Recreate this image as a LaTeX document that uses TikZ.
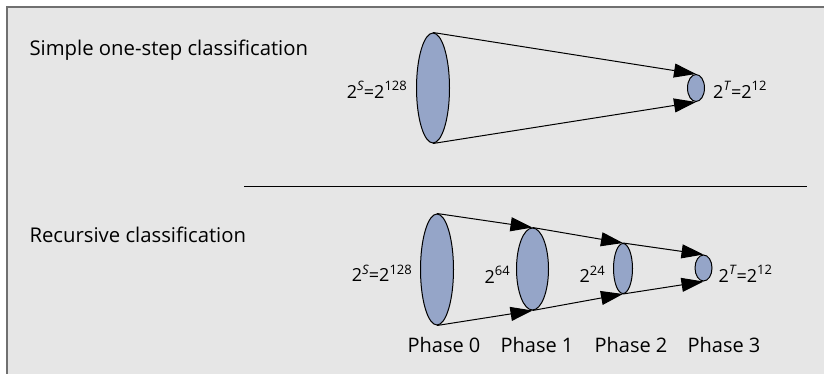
\documentclass[tikz,border=0pt]{standalone}
\usepackage{fontspec}
\setmainfont{Open Sans}
\usetikzlibrary{positioning, arrows.meta, shapes.geometric}
\definecolor{panelgray}{RGB}{230,230,230}
\definecolor{framegray}{RGB}{112,112,112}
\definecolor{setblue}{RGB}{149,165,200}
\newcommand{\pow}[1]{2\raisebox{0.42em}{\fontsize{13}{15}\selectfont#1}}

\begin{document}
\begin{tikzpicture}[x=1pt, y=-1pt,
        set/.style={ellipse, draw, line width=1pt, fill=setblue, inner sep=0pt},
        heading/.style={font=\fontsize{20.3}{24}\selectfont, anchor=west},
        size/.style={font=\fontsize{18}{22}\selectfont, inner sep=1pt},
        phase/.style={font=\fontsize{20}{24}\selectfont},
        flow/.style={line width=1pt, -{Triangle[length=22pt, width=14pt]}}]
        \useasboundingbox (0,0) rectangle (824,374);
        \fill[panelgray] (6,6) rectangle (824,374);
        \draw[framegray, line width=2.5pt] (7,374) -- (7,7) -- (824,7);
        % one-step
        \node[heading] (simple) at (26,50) {Simple one-step classification};
        \node[set, minimum width=33pt, minimum height=110pt] (big) at (433,88) {};
        \node[set, minimum width=17pt, minimum height=27pt] (small) at (696,88) {};
        \draw[flow] (big.north) -- (small.north);
        \draw[flow] (big.south) -- (small.south);
        \node[size, left=8pt of big, yshift=-2pt] (bigsize) {\pow{\textit{S}}=\pow{128}};
        \node[size, right=7pt of small, yshift=-2pt] (smallsize) {\pow{\textit{T}}=\pow{12}};
        \draw[line width=1pt] (244,187) -- (807,187);
        % recursive
        \node[heading] (recursive) at (26,235) {Recursive classification};
        \node[set, minimum width=33pt, minimum height=111pt] (ph0) at (437,269.5) {};
        \node[set, minimum width=32pt, minimum height=82pt] (ph1) at (532.5,269) {};
        \node[set, minimum width=19pt, minimum height=50pt] (ph2) at (623,268.5) {};
        \node[set, minimum width=17pt, minimum height=26pt] (ph3) at (703.5,268) {};
        \foreach \a/\b in {ph0/ph1, ph1/ph2, ph2/ph3} {
          \draw[flow] (\a.north) -- (\b.north);
          \draw[flow] (\a.south) -- (\b.south);
        }
        \node[size, left=7pt of ph0, yshift=-4pt] (size0) {\pow{\textit{S}}=\pow{128}};
        \node[size, left=5pt of ph1, yshift=-6pt] (size1) {\pow{64}};
        \node[size, left=7pt of ph2, yshift=-6pt] (size2) {\pow{24}};
        \node[size, right=5pt of ph3, yshift=-6pt] (size3) {\pow{\textit{T}}=\pow{12}};
        \node[phase] (lbl0) at (444,345) {Phase 0};
        \node[phase] (lbl1) at (537,345) {Phase 1};
        \node[phase] (lbl2) at (631,345) {Phase 2};
        \node[phase] (lbl3) at (724,345) {Phase 3};
\end{tikzpicture}
\end{document}
